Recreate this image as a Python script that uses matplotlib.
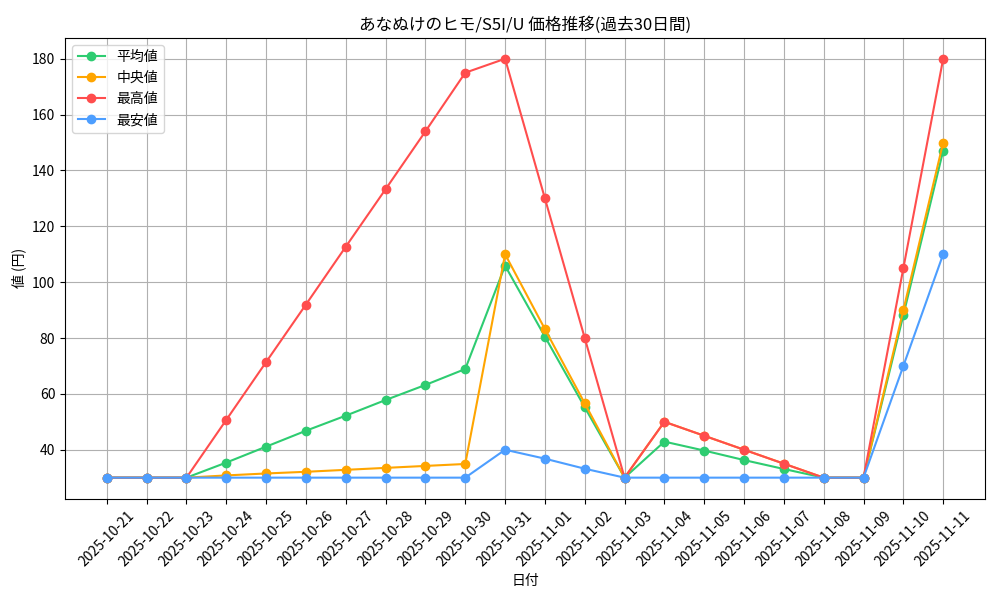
import matplotlib
matplotlib.use("Agg")
import matplotlib.pyplot as plt

plt.rcParams['font.family'] = ['Noto Sans CJK JP', 'DejaVu Sans']

dates = ["2025-10-21", "2025-10-22", "2025-10-23", "2025-10-24", "2025-10-25",
         "2025-10-26", "2025-10-27", "2025-10-28", "2025-10-29", "2025-10-30",
         "2025-10-31", "2025-11-01", "2025-11-02", "2025-11-03", "2025-11-04",
         "2025-11-05", "2025-11-06", "2025-11-07", "2025-11-08", "2025-11-09",
         "2025-11-10", "2025-11-11"]

avg_vals = [30, 30, 30, 35.4, 41.1, 46.8, 52.2, 57.8, 63.2, 68.9,
            105.9, 80.5, 55.2, 30, 42.9, 39.7, 36.3, 33.1, 30, 30,
            88.2, 147.1]
median_vals = [30, 30, 30, 30.8, 31.5, 32.1, 32.8, 33.5, 34.2, 34.9,
               110, 83.2, 56.6, 30, 50, 45, 40, 35, 30, 30,
               90, 150]
max_vals = [30, 30, 30, 50.7, 71.4, 92, 112.7, 133.3, 154, 175,
            180, 130, 80, 30, 50, 45, 40, 35, 30, 30,
            105, 180]
min_vals = [30, 30, 30, 30, 30, 30, 30, 30, 30, 30,
            40, 36.8, 33.2, 30, 30, 30, 30, 30, 30, 30,
            70, 110]

series = [
    ("平均値", avg_vals, "#2ecc71"),
    ("中央値", median_vals, "#ffa500"),
    ("最高値", max_vals, "#ff4d4d"),
    ("最安値", min_vals, "#4d9eff"),
]

fig, ax = plt.subplots(figsize=(10, 6), dpi=100)
for label, vals, color in series:
    ax.plot(dates, vals, marker='o', color=color, label=label, linewidth=1.5)

ax.set_title("あなぬけのヒモ/S5I/U 価格推移(過去30日間)", fontsize=12)
ax.set_xlabel("日付")
ax.set_ylabel("値 (円)")
ax.grid(True)
ax.legend(loc='upper left')
plt.xticks(rotation=45)
fig.subplots_adjust(left=0.065, right=0.985, bottom=0.169, top=0.937)
fig.savefig("out.png", dpi=100)
